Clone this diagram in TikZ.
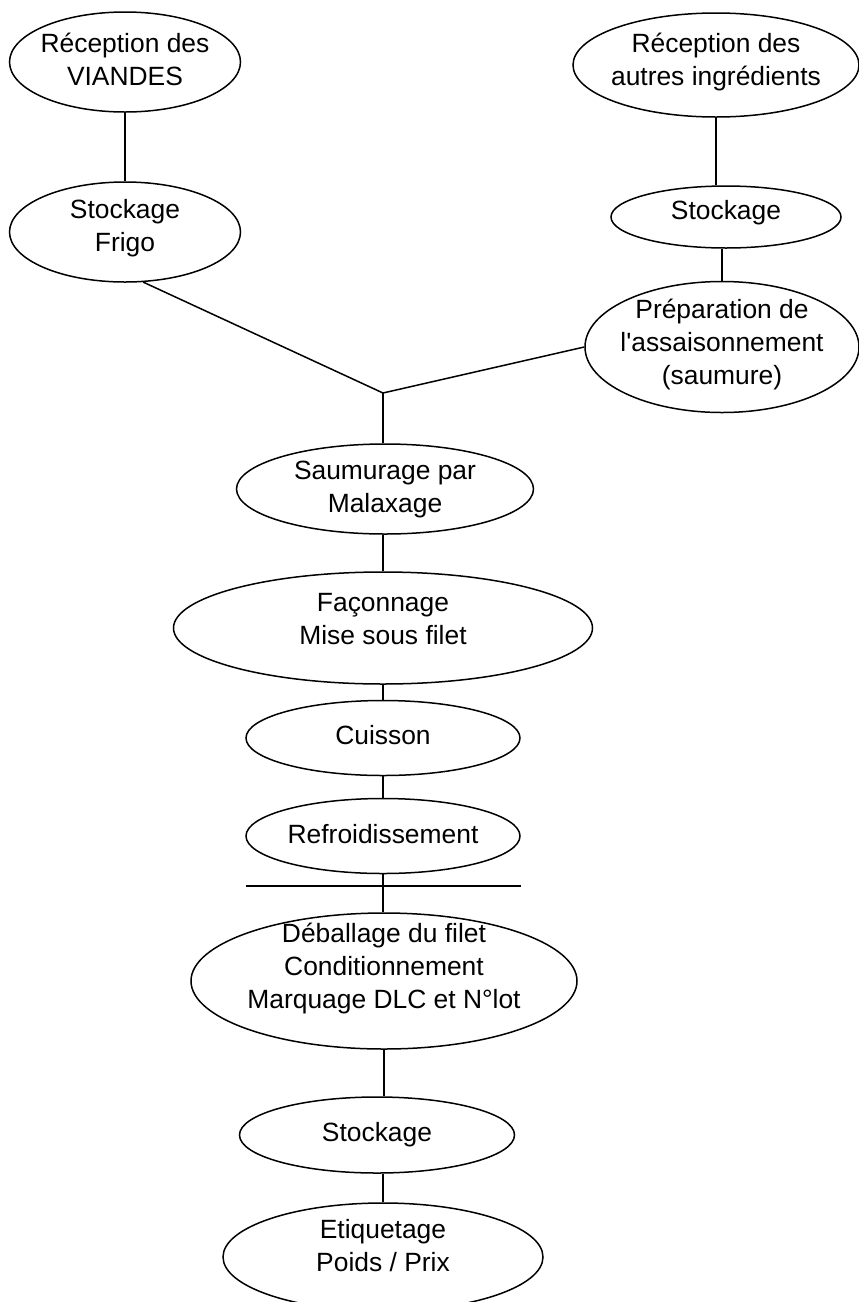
\documentclass[tikz,border=0pt]{standalone}
\usepackage{fontspec}
\setmainfont{Liberation Sans}
\usetikzlibrary{shapes.geometric}

\begin{document}
\begin{tikzpicture}[
  x=1pt, y=-1pt,
  oval/.style={ellipse, draw, line width=1.5pt, inner sep=0pt},
  lbl/.style={align=center, inner sep=0pt,
    font=\fontsize{26.4}{33}\selectfont,
    execute at begin node=\strut, execute at end node=\strut},
  link/.style={line width=1.5pt},
  bar/.style={line width=2.6pt}
]
\clip (0,0) rectangle (859,1302);

% meat branch
\node[oval, minimum width=231, minimum height=100] (vi) at (125,62) {};
\node[lbl] (viT) at (125,64) {Réception des\\VIANDES};
\node[oval, minimum width=231, minimum height=100] (frigo) at (125,232) {};
\node[lbl] (frigoT) at (125,230) {Stockage\\Frigo};

% other ingredients branch
\node[oval, minimum width=286, minimum height=104] (autres) at (716,65) {};
\node[lbl] (autresT) at (716,64) {Réception des\\autres ingrédients};
\node[oval, minimum width=230, minimum height=62] (stockR) at (726,217) {};
\node[lbl] (stockRT) at (726,213) {Stockage};
\node[oval, minimum width=274, minimum height=131] (prep) at (722,347) {};
\node[lbl] (prepT) at (722,347) {Préparation de\\l\textquotesingle assaisonnement\\(saumure)};

% main line
\coordinate (J) at (383,393);
\node[oval, minimum width=297, minimum height=90] (saum) at (385,489) {};
\node[lbl] (saumT) at (385,492) {Saumurage par\\Malaxage};
\node[oval, minimum width=419, minimum height=112] (facon) at (383,628) {};
\node[lbl] (faconT) at (383,624) {Façonnage\\Mise sous filet};
\node[oval, minimum width=274, minimum height=75] (cuis) at (383,738) {};
\node[lbl] (cuisT) at (383,738) {Cuisson};
\node[oval, minimum width=274, minimum height=75] (refr) at (383,836) {};
\node[lbl] (refrT) at (383,837) {Refroidissement};
\coordinate (barL) at (246,886);
\coordinate (barR) at (521,886);
\node[oval, minimum width=386, minimum height=136] (deb) at (384,981) {};
\node[lbl] (debT) at (384,971) {Déballage du filet\\Conditionnement\\Marquage DLC et N°lot};
\node[oval, minimum width=275, minimum height=76] (stockB) at (377,1135) {};
\node[lbl] (stockBT) at (377,1135) {Stockage};
\node[oval, minimum width=320, minimum height=108] (etiq) at (383,1257) {};
\node[lbl] (etiqT) at (383,1250) {Etiquetage\\Poids / Prix};

% connectors
\draw[link] (vi.south) -- (frigo.north);
\draw[link] (autres.south) -- (autres.south |- stockR.north);
\draw[link] (prep.north) -- (prep.north |- stockR.south);
\draw[link] (frigo.-70) -- (J) -- (prep.west);
\draw[link] (J) -- (J |- saum.north);
\draw[link] (facon.north) -- (facon.north |- saum.south);
\draw[link] (facon.south) -- (cuis.north);
\draw[link] (cuis.south) -- (refr.north);
\draw[link] (refr.south) -- (refr.south |- deb.north);
\draw[bar] (barL) -- (barR);
\draw[link] (deb.south) -- (deb.south |- stockB.north);
\draw[link] (etiq.north) -- (etiq.north |- stockB.south);
\end{tikzpicture}
\end{document}
